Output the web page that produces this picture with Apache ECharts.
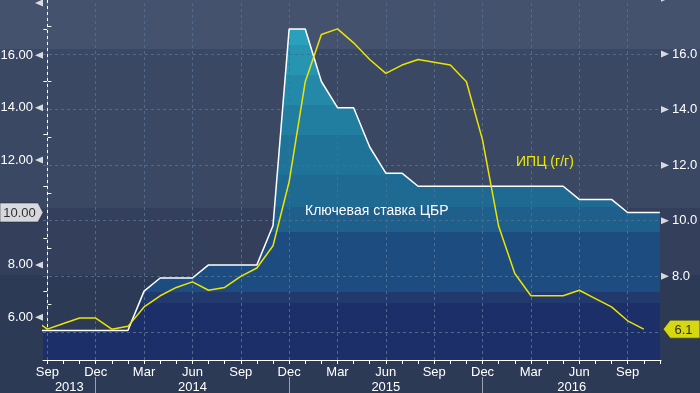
<!DOCTYPE html>
<html><head><meta charset="utf-8">
<script src="https://cdn.jsdelivr.net/npm/echarts@6/dist/echarts.min.js"></script>
<style>
html,body{margin:0;padding:0;background:#2d3a56;}
#c{width:700px;height:393px;background:linear-gradient(to bottom,#45526e 0px,#45526e 49px,#3b4864 49px,#3b4864 208px,#343f5b 208px,#343f5b 275px,#2d3a56 275px,#2d3a56 393px);}
</style>
</head><body><div id="c"></div>
<script>
// months of data (Aug 2013 .. Nov 2016)
const months = ['2013-08','2013-09','2013-10','2013-11','2013-12',
  '2014-01','2014-02','2014-03','2014-04','2014-05','2014-06','2014-07','2014-08','2014-09','2014-10','2014-11','2014-12',
  '2015-01','2015-02','2015-03','2015-04','2015-05','2015-06','2015-07','2015-08','2015-09','2015-10','2015-11','2015-12',
  '2016-01','2016-02','2016-03','2016-04','2016-05','2016-06','2016-07','2016-08','2016-09','2016-10','2016-11'];
// Key rate of the Central Bank (left axis)
const keyRate = [5.5,5.5,5.5,5.5,5.5,
  5.5,5.5,7.0,7.5,7.5,7.5,8.0,8.0,8.0,8.0,9.5,17.0,
  17.0,15.0,14.0,14.0,12.5,11.5,11.5,11.0,11.0,11.0,11.0,11.0,
  11.0,11.0,11.0,11.0,11.0,10.5,10.5,10.5,10.0,10.0,10.0];
// CPI y/y (right axis), Aug 2013 .. Oct 2016
const cpi = [6.5,6.1,6.3,6.5,6.5,
  6.1,6.2,6.9,7.3,7.6,7.8,7.5,7.6,8.0,8.3,9.1,11.4,
  15.0,16.7,16.9,16.4,15.8,15.3,15.6,15.8,15.7,15.6,15.0,12.9,
  9.8,8.1,7.3,7.3,7.3,7.5,7.2,6.9,6.4,6.1];
const monthNames = ['Jan','Feb','Mar','Apr','May','Jun','Jul','Aug','Sep','Oct','Nov','Dec'];
const years = ['2013','2014','2015','2016'];
const leftTickLabels = [6,8,12,14,16,18];
const leftMinorTicks = [5,7,9,11,13,15,17];
const rightTickLabels = [8,10,12,14,16,18];
const rightMinorTicks = [5,6,7,9,11,13,15,17];
const gridYValues = [6,8,10,12,14,16];

// x = months since Sep 2013
function mIndex(s){const [y,m]=s.split('-').map(Number);return (y-2013)*12+(m-9);}
const X_MIN=-0.27, X_MAX=38.07;
const monthLabelVals=[], monthTickVals=[];
for(let t=0;t<=38;t++){monthTickVals.push(t); if(t%3===0) monthLabelVals.push(t);}
const yearBounds=[X_MIN,3,15,27,X_MAX];
const yearCenters=years.map((y,i)=>(yearBounds[i]+yearBounds[i+1])/2);

const keyData=keyRate.map((v,i)=>[mIndex(months[i]),v]);
const cpiData=cpi.map((v,i)=>[mIndex(months[i]),v]);

const FONT="'Liberation Sans',sans-serif";
const FS=13;
const WHITE='#ffffff';
const gridColor='#4d6b8a';

const areaGrad=new echarts.graphic.LinearGradient(0,0,0,360,[
 {offset:0,color:'#2ba0bc'},{offset:45/360,color:'#2ba0bc'},
 {offset:45/360,color:'#2795b2'},{offset:75/360,color:'#2795b2'},
 {offset:75/360,color:'#2489a9'},{offset:105/360,color:'#2489a9'},
 {offset:105/360,color:'#217ea0'},{offset:135/360,color:'#217ea0'},
 {offset:135/360,color:'#207398'},{offset:175/360,color:'#207398'},
 {offset:175/360,color:'#1f6a92'},{offset:207/360,color:'#1f6a92'},
 {offset:207/360,color:'#1e5f8b'},{offset:232/360,color:'#1e5f8b'},
 {offset:232/360,color:'#1d4c80'},{offset:292/360,color:'#1d4c80'},
 {offset:292/360,color:'#21396c'},{offset:303/360,color:'#21396c'},
 {offset:303/360,color:'#1c2f69'},{offset:1,color:'#1c2f69'}],true);

const chart=echarts.init(document.getElementById('c'),null,{renderer:'canvas'});
chart.setOption({
 backgroundColor:'transparent',
 animation:false,
 grid:{left:43,right:39,top:0,bottom:33,containLabel:false,outerBoundsMode:'none'},
 xAxis:[{
   type:'value',min:X_MIN,max:X_MAX,position:'bottom',
   axisLine:{show:true,lineStyle:{color:WHITE,width:1}},
   axisTick:{show:true,customValues:monthTickVals,length:4,lineStyle:{color:WHITE}},
   axisLabel:{customValues:monthLabelVals,color:WHITE,fontFamily:FONT,fontSize:FS,margin:6,
     formatter:v=>monthNames[(Math.round(v)+8)%12]},
   splitLine:{show:false}
 },{
   type:'value',min:X_MIN,max:X_MAX,position:'bottom',offset:17,
   axisLine:{show:false},
   axisTick:{show:true,customValues:[3,15,27],length:16,inside:false,lineStyle:{color:'#9aa2b2'}},
   axisLabel:{customValues:yearCenters,color:WHITE,fontFamily:FONT,fontSize:FS,margin:4,
     formatter:v=>{let best=0;yearCenters.forEach((c,i)=>{if(Math.abs(c-v)<Math.abs(yearCenters[best]-v))best=i;});return years[best];}},
   splitLine:{show:false}
 }],
 yAxis:[{
   type:'value',min:4.37,max:18.11,position:'left',
   axisLine:{show:true,lineStyle:{color:WHITE,width:1}},
   axisTick:{show:true,customValues:leftMinorTicks,length:4,lineStyle:{color:WHITE}},
   axisLabel:{customValues:leftTickLabels.filter(v=>v<18),color:WHITE,fontFamily:FONT,fontSize:FS,margin:10,
     formatter:v=>v.toFixed(2)},
   splitLine:{show:false}
 },{
   type:'value',min:4.99,max:17.94,position:'right',
   axisLine:{show:true,lineStyle:{color:WHITE,width:1}},
   axisTick:{show:true,customValues:rightMinorTicks,length:4,lineStyle:{color:WHITE}},
   axisLabel:{customValues:rightTickLabels.filter(v=>v<18),color:WHITE,fontFamily:FONT,fontSize:FS,margin:11,
     formatter:v=>v.toFixed(1)},
   splitLine:{show:false}
 }],
 series:[
  {name:'keyArea',type:'line',xAxisIndex:0,yAxisIndex:0,data:keyData,showSymbol:false,z:1,
   lineStyle:{width:0,opacity:0},areaStyle:{color:areaGrad,opacity:1,origin:'start'},silent:true},
  {name:'grid',type:'line',xAxisIndex:0,yAxisIndex:1,data:cpiData,showSymbol:false,z:3,
   lineStyle:{opacity:0},silent:true,
   markLine:{silent:true,symbol:'none',label:{show:false},animation:false,
     lineStyle:{color:gridColor,type:[3,3],width:1},
     data:gridYValues.map(v=>({yAxis:v})).concat(monthLabelVals.map(v=>({xAxis:v})))}},
  {name:'Ключевая ставка ЦБР',type:'line',xAxisIndex:0,yAxisIndex:0,data:keyData,showSymbol:false,z:6,
   lineStyle:{color:WHITE,width:1.5}},
  {name:'ИПЦ (г/г)',type:'line',xAxisIndex:0,yAxisIndex:1,data:cpiData,showSymbol:false,z:7,
   lineStyle:{color:'#ece400',width:1.5}},
  {type:'scatter',xAxisIndex:0,yAxisIndex:0,clip:false,silent:true,z:8,
   data:leftTickLabels.map(v=>[X_MIN,v]),symbol:'triangle',symbolSize:[7,8],symbolRotate:90,symbolOffset:[-4,0],
   itemStyle:{color:WHITE}},
  {type:'scatter',xAxisIndex:0,yAxisIndex:1,clip:false,silent:true,z:8,
   data:rightTickLabels.map(v=>[X_MAX,v]),symbol:'triangle',symbolSize:[7,8],symbolRotate:-90,symbolOffset:[4,0],
   itemStyle:{color:WHITE}},
  {type:'scatter',xAxisIndex:0,yAxisIndex:0,clip:false,silent:true,z:9,
   data:[[X_MIN,keyRate[keyRate.length-1]]],
   symbol:'path://M0,0L38,0L43,9.5L38,19L0,19Z',symbolSize:[43,19],symbolOffset:[-21.5,0],
   itemStyle:{color:'#ffffff',borderColor:'#222',borderWidth:0.6},
   label:{show:true,position:'inside',offset:[-2,1],color:'#000',fontFamily:FONT,fontSize:FS,
     formatter:p=>p.value[1].toFixed(2)}},
  {type:'scatter',xAxisIndex:0,yAxisIndex:1,clip:false,silent:true,z:9,
   data:[[X_MAX,cpi[cpi.length-1]]],
   symbol:'path://M0,9L7,0L37,0L37,18L7,18Z',symbolSize:[37,18],symbolOffset:[20.5,0],
   itemStyle:{color:'#ffff00',borderColor:'#333',borderWidth:0.8},
   label:{show:true,position:'inside',offset:[2,1],color:'#000',fontFamily:FONT,fontSize:FS,
     formatter:p=>p.value[1].toFixed(1)}}
 ],
 graphic:[
  {type:'text',left:305,top:204,z:20,style:{text:'Ключевая ставка ЦБР',fill:WHITE,font:"14px 'Liberation Sans',sans-serif"}},
  {type:'text',left:516,top:155,z:20,style:{text:'ИПЦ (г/г)',fill:'#f0e800',font:"14px 'Liberation Sans',sans-serif"}}
 ]
});
</script>
</body></html>
